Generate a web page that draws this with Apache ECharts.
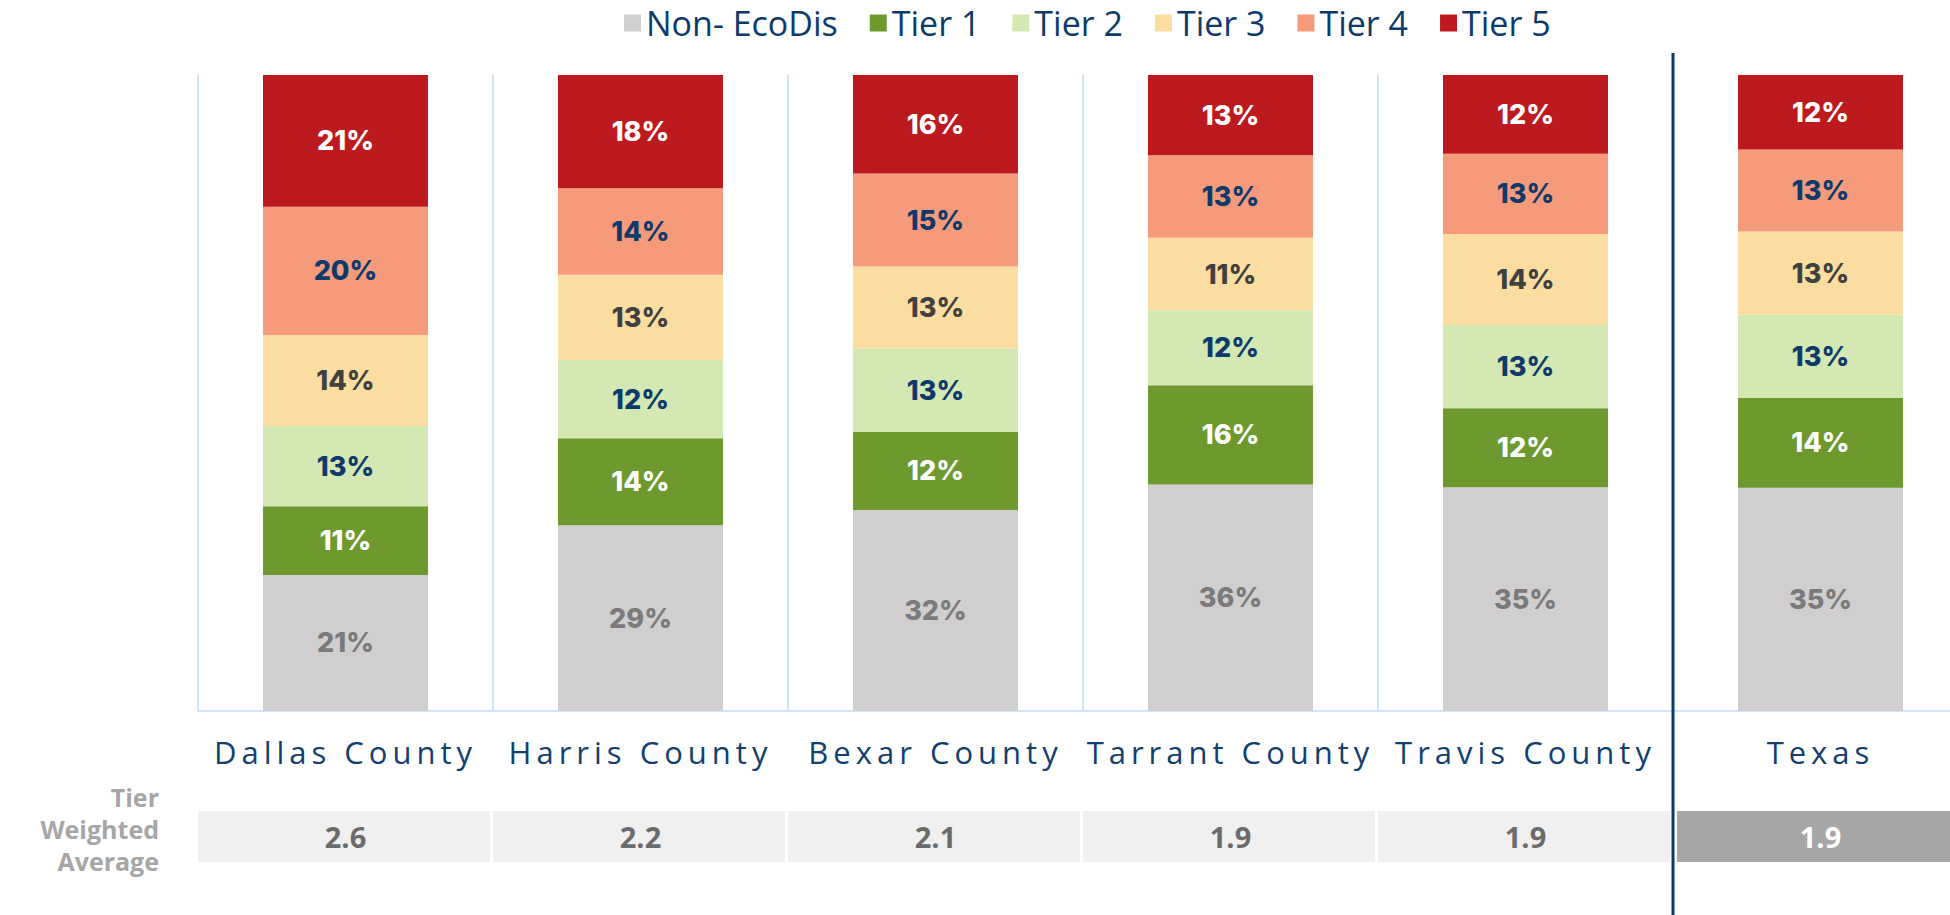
<!DOCTYPE html>
<html>
<head>
<meta charset="utf-8">
<script src="https://cdn.jsdelivr.net/npm/echarts@6/dist/echarts.min.js"></script>
<style>
    html, body { margin: 0; padding: 0; background: #fff; }
    #chart { width: 1950px; height: 915px; }
    /* county names are letter-spaced in the original */
    #chart text[fill="#123f70"] { letter-spacing: 5px; }
</style>
</head>
<body>
<div id="chart"></div>
<script>
var categories = ['Dallas County', 'Harris County', 'Bexar County', 'Tarrant County', 'Travis County', 'Texas'];
var seriesNames = ['Non- EcoDis', 'Tier 1', 'Tier 2', 'Tier 3', 'Tier 4', 'Tier 5'];
// shares in % (labels are rounded)
var nonEcoDis = [21.4, 29.2, 31.6, 35.6, 35.2, 35.1];
var tier1 = [10.8, 13.7, 12.3, 15.6, 12.4, 14.1];
var tier2 = [12.6, 12.3, 13.1, 11.8, 13.1, 13.1];
var tier3 = [14.3, 13.4, 12.9, 11.4, 14.3, 13.1];
var tier4 = [20.2, 13.6, 14.6, 13.0, 12.6, 12.9];
var tier5 = [20.7, 17.8, 15.5, 12.6, 12.4, 11.7];
var weightedAvg = [2.6, 2.2, 2.1, 1.9, 1.9, 1.9];
var rowLabel = 'Tier Weighted Average';

var colors = ['#d0cecf', '#6e992e', '#d3e8b2', '#fcdda1', '#f59b7c', '#bc1a1f'];
var labelColors = ['#7a7a7a', '#ffffff', '#0e3a6b', '#404040', '#0e3a6b', '#ffffff'];
var values = [nonEcoDis, tier1, tier2, tier3, tier4, tier5];

var chartDom = document.getElementById('chart');
var myChart = echarts.init(chartDom, null, { renderer: 'svg' });

var barSeries = [];
values.forEach(function (vals, i) {
    barSeries.push({
        name: seriesNames[i],
        type: 'bar',
        stack: 'share',
        barWidth: 165,
        xAxisIndex: 0,
        yAxisIndex: 0,
        itemStyle: { color: colors[i] },
        label: {
            show: true,
            position: 'inside',
            formatter: function (p) { return Math.round(p.value) + '%'; },
            color: labelColors[i],
            fontFamily: 'Inter',
            fontWeight: 800,
            fontSize: 27
        },
        data: vals
    });
});

var avgData = [];
weightedAvg.forEach(function (v, i) {
    avgData.push([i, 0, v]);
});

var option = {
    animation: false,
    legend: {
        data: seriesNames,
        left: 619,
        top: 0,
        icon: 'rect',
        itemWidth: 17,
        itemHeight: 17,
        itemGap: 32,
        textStyle: {
            fontFamily: 'Open Sans',
            fontSize: 34,
            color: '#0e3a6b',
            lineHeight: 36
        }
    },
    grid: [
        { left: 198, right: -18, top: 75, bottom: 204, outerBoundsMode: 'none', containLabel: false },
        { left: 198, right: -18, top: 811, height: 51, outerBoundsMode: 'none', containLabel: false }
    ],
    xAxis: [
        {
            type: 'category',
            gridIndex: 0,
            data: categories,
            axisTick: { show: false },
            axisLine: { lineStyle: { color: '#d0e5f9', width: 2 } },
            splitLine: { show: true, interval: 0, lineStyle: { color: '#d0e5f9', width: 2 } },
            axisLabel: {
                interval: 0,
                margin: 23,
                color: '#123f70',
                fontFamily: 'Open Sans',
                fontSize: 31,
                lineHeight: 36
            }
        },
        {
            type: 'category',
            gridIndex: 1,
            data: categories,
            show: false
        }
    ],
    yAxis: [
        { type: 'value', gridIndex: 0, min: 0, max: 100, show: false },
        {
            type: 'category',
            gridIndex: 1,
            data: [rowLabel],
            axisLine: { show: false },
            axisTick: { show: false },
            axisLabel: {
                margin: 39,
                // one word per line, plus a short spacer line to lift the block a little
                formatter: function (v) {
                    return v.split(' ').map(function (w) { return '{a|' + w + '}'; }).join('\n') + '\n{s|}';
                },
                rich: {
                    a: {
                        color: '#a6a6a6',
                        fontFamily: 'Open Sans',
                        fontWeight: 'bold',
                        fontSize: 25,
                        lineHeight: 32,
                        align: 'right'
                    },
                    s: { fontSize: 10, lineHeight: 15 }
                }
            }
        }
    ],
    series: barSeries.concat([
        {
            type: 'custom',
            xAxisIndex: 1,
            yAxisIndex: 1,
            data: avgData,
            encode: { x: 0, y: 1 },
            renderItem: function (params, api) {
                var center = api.coord([api.value(0), api.value(1)]);
                var size = api.size([1, 1]);
                var isState = api.value(0) === categories.length - 1;
                return {
                    type: 'group',
                    children: [
                        {
                            type: 'rect',
                            shape: {
                                x: center[0] - size[0] / 2 + (isState ? 4 : 0),
                                y: center[1] - size[1] / 2,
                                width: size[0] - 3,
                                height: size[1]
                            },
                            style: { fill: isState ? '#a6a6a6' : '#f0f0f0' }
                        },
                        {
                            type: 'text',
                            x: center[0],
                            y: center[1],
                            style: {
                                text: api.value(2).toFixed(1),
                                align: 'center',
                                verticalAlign: 'middle',
                                fill: isState ? '#ffffff' : '#6b6b6b',
                                font: 'bold 29px "Open Sans"'
                            }
                        }
                    ]
                };
            }
        }
    ])
};
myChart.setOption(option);

// navy divider between the counties and the state total
var c4 = myChart.convertToPixel({ xAxisIndex: 0 }, 4);
var c5 = myChart.convertToPixel({ xAxisIndex: 0 }, 5);
var dividerX = (c4 + c5) / 2;
myChart.setOption({
    graphic: [{
        type: 'line',
        shape: { x1: dividerX, y1: 53, x2: dividerX, y2: 915 },
        style: { stroke: '#0b3a6b', lineWidth: 3 },
        z: 10
    }]
});

window.addEventListener('resize', function () {
    myChart.resize();
});
</script>
</body>
</html>
